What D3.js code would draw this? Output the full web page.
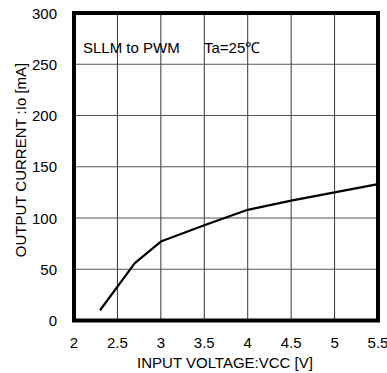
<meta charset="utf-8">
<title>Output current vs input voltage</title>
<body style="margin:0;background:#fff">
<script src="https://d3js.org/d3.v7.min.js"></script>
<script>
// input voltage [V] / output current [mA]
var vcc = [2.3, 2.7, 3.0, 3.5, 4.0, 4.5, 5.0, 5.5];
var io  = [10, 56, 77, 93, 108, 117, 125, 133];
var xTicks = [2, 2.5, 3, 3.5, 4, 4.5, 5, 5.5];
var yTicks = [0, 50, 100, 150, 200, 250, 300];

var width = 387, height = 373;
var plotL = 74, plotR = 378, plotT = 13, plotB = 320.5;

var svg = d3.select('body').append('svg')
    .attr('width', width)
    .attr('height', height)
    .style('display', 'block')
    .style('font-family', 'Liberation Sans, Arial, sans-serif');

var x = d3.scaleLinear().domain([2, 5.5]).range([plotL, plotR]);
var y = d3.scaleLinear().domain([0, 300]).range([plotB, plotT]);

// grid
svg.selectAll('.vg').data(xTicks.slice(1, -1)).enter().append('line')
    .attr('x1', d => x(d)).attr('x2', d => x(d))
    .attr('y1', plotT).attr('y2', plotB)
    .style('stroke', '#333').style('stroke-width', 1);
svg.selectAll('.hg').data(yTicks.slice(1, -1)).enter().append('line')
    .attr('x1', plotL).attr('x2', plotR)
    .attr('y1', d => y(d)).attr('y2', d => y(d))
    .style('stroke', '#555').style('stroke-width', 1);

// frame
svg.append('rect')
    .attr('x', plotL).attr('y', plotT)
    .attr('width', plotR - plotL).attr('height', plotB - plotT)
    .style('fill', 'none').style('stroke', '#000').style('stroke-width', 4);

// curve
var line = d3.line().x((d, i) => x(vcc[i])).y(d => y(d));
svg.append('path')
    .datum(io)
    .attr('d', line)
    .style('fill', 'none').style('stroke', '#000').style('stroke-width', 2.2)
    .style('stroke-linejoin', 'round');

// tick labels
svg.selectAll('.yl').data(yTicks).enter().append('text')
    .attr('x', 57).attr('y', d => y(d) + 5.5)
    .attr('text-anchor', 'end')
    .style('font-size', '15px')
    .text(d => d);
svg.selectAll('.xl').data(xTicks).enter().append('text')
    .attr('x', d => x(d)).attr('y', 348)
    .attr('text-anchor', 'middle')
    .style('font-size', '15px')
    .text(d => d);

// axis titles
svg.append('text')
    .attr('x', 225).attr('y', 368)
    .attr('text-anchor', 'middle')
    .style('font-size', '15px')
    .text('INPUT VOLTAGE:VCC [V]');
svg.append('text')
    .attr('transform', 'translate(26,160) rotate(-90)')
    .attr('text-anchor', 'middle')
    .style('font-size', '15px')
    .text('OUTPUT CURRENT :Io [mA]');

// notes
svg.append('text')
    .attr('x', 83).attr('y', 53)
    .style('font-size', '15px')
    .text('SLLM to PWM');
svg.append('text')
    .attr('x', 204).attr('y', 53)
    .style('font-size', '15px')
    .text('Ta=25℃');
</script>
</body>
